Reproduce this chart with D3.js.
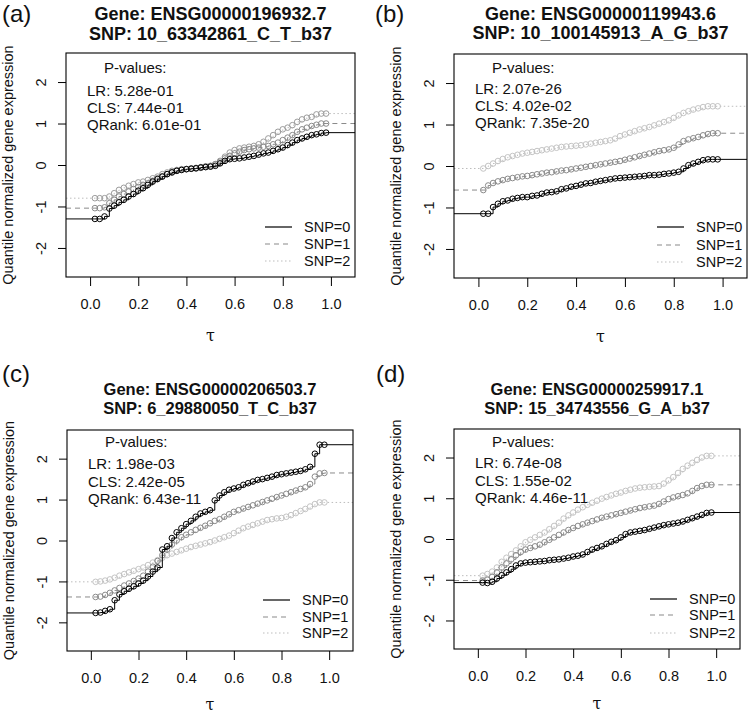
<!DOCTYPE html>
<html><head><meta charset="utf-8">
<script src="https://cdn.jsdelivr.net/npm/d3@7"></script>
<style>
body{margin:0;background:#fff}
svg{display:block}
text{font-family:"Liberation Sans",Arial,Helvetica,sans-serif;fill:#111}
</style>
</head><body>
<svg id="chart" width="748" height="715"></svg>
<script>
// ---------------- DATA ----------------
const tau = d3.range(1, 50).map(i => +(i * 0.02).toFixed(2));
const panelLabels = ["(a)", "(b)", "(c)", "(d)"];
const genes = ["ENSG00000196932.7", "ENSG00000119943.6", "ENSG00000206503.7", "ENSG00000259917.1"];
const snps = ["10_63342861_C_T_b37", "10_100145913_A_G_b37", "6_29880050_T_C_b37", "15_34743556_G_A_b37"];
const pvalLR = ["5.28e-01", "2.07e-26", "1.98e-03", "6.74e-08"];
const pvalCLS = ["7.44e-01", "4.02e-02", "2.42e-05", "1.55e-02"];
const pvalQRank = ["6.01e-01", "7.35e-20", "6.43e-11", "4.46e-11"];
const legendLabels = ["SNP=0", "SNP=1", "SNP=2"];
const xTicks = [0, 0.2, 0.4, 0.6, 0.8, 1.0];
const yTicks = [-2, -1, 0, 1, 2];
const xLimits = [-0.1, 1.1];
const yLimits = [-2.7, 2.7];

// panel (a)
const a_snp0 = [-1.30,-1.30,-1.24,-1.05,-0.98,-0.90,-0.84,-0.76,-0.70,-0.62,-0.56,-0.48,-0.40,-0.34,-0.28,-0.22,-0.18,-0.14,-0.12,-0.10,-0.09,-0.08,-0.06,-0.05,-0.04,-0.02,0.04,0.10,0.14,0.15,0.16,0.18,0.20,0.22,0.25,0.28,0.30,0.34,0.38,0.42,0.48,0.54,0.60,0.64,0.68,0.72,0.74,0.77,0.78];
const a_snp1 = [-1.04,-1.04,-1.02,-0.92,-0.84,-0.76,-0.70,-0.64,-0.58,-0.53,-0.48,-0.44,-0.38,-0.32,-0.27,-0.22,-0.17,-0.14,-0.11,-0.10,-0.08,-0.07,-0.05,-0.03,-0.02,0.02,0.08,0.16,0.22,0.28,0.32,0.36,0.38,0.40,0.42,0.44,0.46,0.50,0.54,0.60,0.66,0.72,0.80,0.86,0.90,0.94,0.97,1.00,1.00];
const a_snp2 = [-0.80,-0.80,-0.80,-0.76,-0.68,-0.60,-0.55,-0.50,-0.46,-0.42,-0.40,-0.36,-0.32,-0.28,-0.22,-0.18,-0.14,-0.12,-0.10,-0.10,-0.09,-0.08,-0.07,-0.05,-0.03,0.02,0.10,0.20,0.30,0.36,0.40,0.42,0.44,0.46,0.50,0.56,0.64,0.72,0.80,0.86,0.90,0.96,1.04,1.10,1.14,1.16,1.22,1.24,1.24];
// panel (b)
const b_snp0 = [-1.15,-1.15,-0.99,-0.91,-0.85,-0.83,-0.79,-0.77,-0.75,-0.75,-0.72,-0.71,-0.67,-0.64,-0.63,-0.61,-0.56,-0.54,-0.50,-0.48,-0.45,-0.42,-0.41,-0.38,-0.36,-0.34,-0.32,-0.30,-0.29,-0.28,-0.27,-0.26,-0.25,-0.24,-0.22,-0.22,-0.21,-0.19,-0.18,-0.16,-0.14,-0.06,0.02,0.06,0.10,0.14,0.16,0.16,0.16];
const b_snp1 = [-0.58,-0.47,-0.41,-0.37,-0.34,-0.31,-0.29,-0.27,-0.25,-0.24,-0.22,-0.20,-0.18,-0.16,-0.15,-0.13,-0.11,-0.10,-0.08,-0.06,-0.04,-0.02,0.00,0.02,0.04,0.06,0.08,0.10,0.12,0.15,0.18,0.21,0.24,0.27,0.30,0.33,0.36,0.38,0.40,0.44,0.52,0.60,0.64,0.67,0.70,0.74,0.77,0.79,0.79];
const b_snp2 = [-0.06,0.00,0.06,0.12,0.17,0.21,0.24,0.27,0.30,0.32,0.34,0.36,0.38,0.40,0.42,0.44,0.46,0.47,0.48,0.49,0.50,0.52,0.54,0.56,0.58,0.60,0.62,0.66,0.72,0.76,0.80,0.84,0.88,0.91,0.94,0.98,1.02,1.06,1.10,1.16,1.22,1.28,1.32,1.36,1.39,1.42,1.44,1.44,1.44];
// panel (c)
const c_snp0 = [-1.77,-1.76,-1.72,-1.68,-1.46,-1.32,-1.24,-1.18,-1.12,-1.05,-0.98,-0.88,-0.76,-0.66,-0.22,-0.14,0.06,0.20,0.30,0.40,0.48,0.58,0.66,0.70,0.74,0.98,1.10,1.18,1.24,1.27,1.30,1.36,1.40,1.44,1.48,1.50,1.53,1.56,1.60,1.62,1.64,1.66,1.68,1.70,1.74,1.80,2.12,2.34,2.34];
const c_snp1 = [-1.38,-1.37,-1.33,-1.28,-1.22,-1.16,-1.10,-1.05,-0.99,-0.93,-0.86,-0.76,-0.64,-0.50,-0.36,-0.22,-0.10,0.00,0.08,0.14,0.20,0.26,0.31,0.36,0.42,0.48,0.52,0.58,0.64,0.70,0.74,0.78,0.82,0.86,0.90,0.94,0.98,1.02,1.06,1.10,1.14,1.18,1.22,1.26,1.30,1.38,1.56,1.64,1.65];
const c_snp2 = [-1.01,-1.00,-0.98,-0.95,-0.91,-0.86,-0.82,-0.78,-0.74,-0.70,-0.66,-0.60,-0.54,-0.48,-0.42,-0.36,-0.32,-0.28,-0.24,-0.20,-0.16,-0.13,-0.10,-0.07,-0.04,0.00,0.04,0.08,0.12,0.18,0.24,0.30,0.34,0.38,0.42,0.46,0.50,0.52,0.54,0.55,0.58,0.62,0.67,0.72,0.77,0.83,0.89,0.93,0.93];
// panel (d)
const d_snp0 = [-1.07,-1.08,-1.05,-0.97,-0.89,-0.82,-0.74,-0.65,-0.60,-0.58,-0.57,-0.56,-0.55,-0.54,-0.52,-0.51,-0.50,-0.48,-0.46,-0.43,-0.41,-0.38,-0.32,-0.26,-0.22,-0.18,-0.12,-0.07,-0.03,0.04,0.12,0.16,0.18,0.20,0.22,0.25,0.28,0.31,0.34,0.36,0.38,0.40,0.43,0.47,0.51,0.55,0.59,0.64,0.65];
const d_snp1 = [-1.02,-1.00,-0.93,-0.82,-0.70,-0.60,-0.50,-0.40,-0.32,-0.26,-0.22,-0.18,-0.14,-0.08,-0.02,0.04,0.10,0.16,0.22,0.27,0.32,0.36,0.40,0.44,0.48,0.52,0.55,0.58,0.61,0.64,0.67,0.70,0.73,0.76,0.78,0.80,0.82,0.86,0.92,0.98,1.02,1.05,1.08,1.12,1.18,1.25,1.30,1.33,1.33];
const d_snp2 = [-0.90,-0.86,-0.80,-0.70,-0.56,-0.46,-0.37,-0.28,-0.18,-0.08,-0.02,0.04,0.10,0.16,0.24,0.32,0.40,0.50,0.58,0.65,0.72,0.78,0.84,0.89,0.94,0.99,1.03,1.07,1.11,1.14,1.18,1.21,1.24,1.26,1.27,1.28,1.29,1.30,1.36,1.44,1.52,1.62,1.72,1.80,1.87,1.94,2.00,2.04,2.04];

const panelSeries = [
  [a_snp0, a_snp1, a_snp2],
  [b_snp0, b_snp1, b_snp2],
  [c_snp0, c_snp1, c_snp2],
  [d_snp0, d_snp1, d_snp2]
];

// ---------------- LAYOUT / STYLE ----------------
const layout = [
  {box:[66,355,53,277],  title:[-33,-13.5], tfs:18,   lab:[2,22],   pv:[20,43,60,77],  lg:[-45,-28,-11], fs:14.5, tauY:64},
  {box:[454,747,54,278], title:[-34.5,-15], tfs:18,   lab:[375,22], pv:[19,40,57,74],  lg:[-46,-28,-11], fs:14.5, tauY:64},
  {box:[67,353,430,651], title:[-35,-16],   tfs:16.5, lab:[2,382],  pv:[17,39,57,74],  lg:[-46,-29,-13], fs:14.5, tauY:59},
  {box:[454,740,429,649],title:[-34,-15],   tfs:16.5, lab:[376,382],pv:[18,39,57,74],  lg:[-45,-29,-11], fs:14.5, tauY:60}
];
const snpColors = [["#000","#8a8a8a","#9c9c9c"],["#000","#8a8a8a","#c4c4c4"],["#000","#8a8a8a","#c4c4c4"],["#000","#8a8a8a","#c4c4c4"]];
const lineColors = ["#000","#8a8a8a","#bdbdbd"];
const dashes = [null, "5,4", "1.5,2.5"];

const svg = d3.select("#chart");

layout.forEach((L, p) => {
  const [left, right, top, bottom] = L.box;
  const x = d3.scaleLinear().domain(xLimits).range([left, right]);
  const y = d3.scaleLinear().domain(yLimits).range([bottom, top]);
  const g = svg.append("g");
  const cx = (left + right) / 2, cy = (top + bottom) / 2;

  // panel label
  g.append("text").attr("x", L.lab[0]).attr("y", L.lab[1])
    .style("font-size", "24px").text(panelLabels[p]);

  // title
  g.append("text").attr("x", cx).attr("y", top + L.title[0]).attr("text-anchor", "middle")
    .style("font-size", L.tfs + "px").style("font-weight", "bold").text("Gene: " + genes[p]);
  g.append("text").attr("x", cx).attr("y", top + L.title[1]).attr("text-anchor", "middle")
    .style("font-size", L.tfs + "px").style("font-weight", "bold").text("SNP: " + snps[p]);

  // clip
  const cid = "clip" + p;
  svg.append("clipPath").attr("id", cid).append("rect")
    .attr("x", left).attr("y", top).attr("width", right - left).attr("height", bottom - top);

  const plot = g.append("g").attr("clip-path", `url(#${cid})`);
  const line = d3.line().x(d => x(d[0])).y(d => y(d[1])).curve(d3.curveStepAfter);

  [2, 1, 0].forEach(s => {
    const vals = panelSeries[p][s];
    const pts = tau.map((t, i) => [t, vals[i]]);
    const full = [[xLimits[0], vals[0]], ...pts, [xLimits[1], vals[vals.length - 1]]];
    plot.append("path").attr("d", line(full)).attr("fill", "none")
      .attr("stroke", lineColors[s]).attr("stroke-width", 1)
      .attr("stroke-dasharray", dashes[s]);
    plot.selectAll(null).data(pts).enter().append("circle")
      .attr("cx", d => x(d[0])).attr("cy", d => y(d[1])).attr("r", 2.8)
      .attr("fill", "none").attr("stroke", snpColors[p][s]).attr("stroke-width", 1);
  });

  // box
  g.append("rect").attr("x", left).attr("y", top).attr("width", right - left).attr("height", bottom - top)
    .attr("fill", "none").attr("stroke", "#000").attr("stroke-width", 1.1);

  // x axis
  const xa = g.append("g").attr("transform", `translate(0,${bottom})`)
    .call(d3.axisBottom(x).tickValues(xTicks).tickFormat(d3.format(".1f")).tickSize(9).tickPadding(13).tickSizeOuter(0));
  xa.select(".domain").remove();
  xa.selectAll("text").style("font-size", L.fs + "px").attr("fill", "#111").style("font-family", '"Liberation Sans",Arial,sans-serif');
  xa.selectAll("line").attr("stroke", "#000");

  // y axis
  const ya = g.append("g").attr("transform", `translate(${left},0)`)
    .call(d3.axisLeft(y).tickValues(yTicks).tickFormat(d3.format("d")).tickSize(8).tickSizeOuter(0));
  ya.select(".domain").remove();
  ya.selectAll("line").attr("stroke", "#000");
  ya.selectAll("text").attr("x", null).attr("dy", null).attr("text-anchor", "middle")
    .attr("transform", "translate(-20,0) rotate(-90)")
    .style("font-size", L.fs + "px").attr("fill", "#111").style("font-family", '"Liberation Sans",Arial,sans-serif')
    .text(d => d < 0 ? "-" + Math.abs(d) : d);

  // axis titles
  g.append("text").attr("x", cx).attr("y", bottom + L.tauY).attr("text-anchor", "middle")
    .style("font-family", '"DejaVu Serif",serif').style("font-size", "16px").text("τ");
  g.append("text").attr("transform", `translate(${left - 53},${cy}) rotate(-90)`).attr("text-anchor", "middle")
    .style("font-size", "14.5px").text("Quantile normalized gene expression");

  // p-values block
  g.append("text").attr("x", left + 38).attr("y", top + L.pv[0]).style("font-size", "15px").text("P-values:");
  [["LR: ", pvalLR], ["CLS: ", pvalCLS], ["QRank: ", pvalQRank]].forEach((r, k) => {
    g.append("text").attr("x", left + 21).attr("y", top + L.pv[k + 1]).style("font-size", "15px").text(r[0] + r[1][p]);
  });

  // legend
  legendLabels.forEach((lab, s) => {
    const by = bottom + L.lg[s];
    g.append("line").attr("x1", right - 90).attr("x2", right - 63).attr("y1", by - 5).attr("y2", by - 5)
      .attr("stroke", lineColors[s]).attr("stroke-width", 1.2).attr("stroke-dasharray", dashes[s]);
    g.append("text").attr("x", right - 51).attr("y", by).style("font-size", "14.5px").text(lab);
  });
});
</script>
</body></html>
